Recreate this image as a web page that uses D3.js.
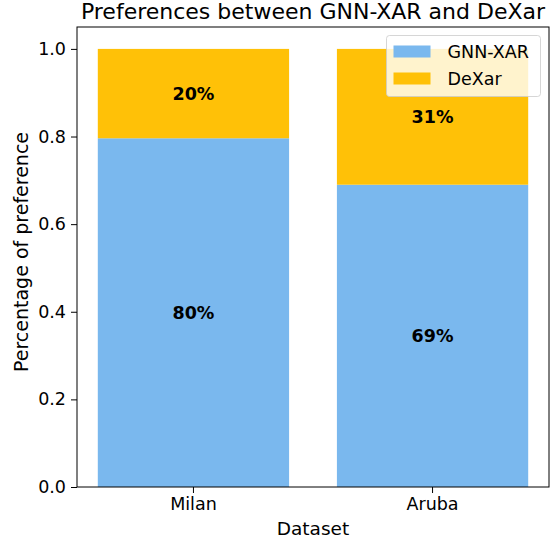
<!DOCTYPE html>
<html>
<head>
<meta charset="utf-8">
<script src="https://cdn.jsdelivr.net/npm/d3@7"></script>
<style>
  body { margin: 0; background: #fff; }
  svg { display: block; font-family: "DejaVu Sans", sans-serif; }
</style>
</head>
<body>
<svg id="chart"></svg>
<script>
// data
const datasets = ["Milan", "Aruba"];
const gnnXar = [0.796, 0.69];
const deXar = [0.204, 0.31];
const seriesNames = ["GNN-XAR", "DeXar"];
const seriesColors = ["#7ab8ee", "#ffc107"];
const yTicks = [0, 0.2, 0.4, 0.6, 0.8, 1.0];

const width = 550, height = 543;
const margin = {top: 27, right: 1, bottom: 56, left: 77};

const svg = d3.select("#chart")
    .attr("width", width)
    .attr("height", height);

const x = d3.scaleBand()
    .domain(datasets)
    .range([margin.left, width - margin.right])
    .paddingInner(0.2)
    .paddingOuter(0.087);

const y = d3.scaleLinear()
    .domain([0, 1.05])
    .range([height - margin.bottom, margin.top]);

// stack the two series
const rows = datasets.map((d, i) => ({dataset: d, "GNN-XAR": gnnXar[i], "DeXar": deXar[i]}));
const stacked = d3.stack().keys(seriesNames)(rows);
const color = d3.scaleOrdinal().domain(seriesNames).range(seriesColors);

const layers = svg.append("g")
  .selectAll("g")
  .data(stacked)
  .enter()
  .append("g")
    .attr("fill", d => color(d.key));

layers.selectAll("rect")
  .data(d => d)
  .enter()
  .append("rect")
    .attr("x", d => x(d.data.dataset))
    .attr("y", d => y(d[1]))
    .attr("width", x.bandwidth())
    .attr("height", d => y(d[0]) - y(d[1]));

// percentage labels in the middle of each segment
layers.selectAll("text")
  .data(d => d)
  .enter()
  .append("text")
    .attr("x", d => x(d.data.dataset) + x.bandwidth() / 2)
    .attr("y", d => y((d[0] + d[1]) / 2))
    .attr("dy", "0.36em")
    .attr("text-anchor", "middle")
    .attr("fill", "#000")
    .style("font-size", "17.5px")
    .style("font-weight", "bold")
    .text(d => Math.round((d[1] - d[0]) * 100) + "%");

// axes
const xAxis = svg.append("g")
    .attr("transform", `translate(0,${height - margin.bottom})`)
    .call(d3.axisBottom(x).tickSize(6).tickPadding(5));

const yAxis = svg.append("g")
    .attr("transform", `translate(${margin.left},0)`)
    .call(d3.axisLeft(y).tickValues(yTicks).tickFormat(d3.format(".1f")).tickSize(6).tickPadding(5));

[xAxis, yAxis].forEach(a => {
  a.select(".domain").remove();
  a.selectAll("text").style("font-size", "17.5px").attr("fill", "#000").style("font-family", "DejaVu Sans");
  a.selectAll("line").attr("stroke", "#000").attr("stroke-width", 1);
});

// frame
svg.append("rect")
    .attr("x", margin.left)
    .attr("y", margin.top)
    .attr("width", width - margin.left - margin.right)
    .attr("height", height - margin.top - margin.bottom)
    .attr("fill", "none")
    .attr("stroke", "#000")
    .attr("stroke-width", 1);

// title and axis labels
svg.append("text")
    .attr("x", (margin.left + width - margin.right) / 2)
    .attr("y", 19)
    .attr("text-anchor", "middle")
    .style("font-size", "22px")
    .text("Preferences between GNN-XAR and DeXar");

svg.append("text")
    .attr("x", (margin.left + width - margin.right) / 2)
    .attr("y", 535)
    .attr("text-anchor", "middle")
    .style("font-size", "18.5px")
    .text("Dataset");

svg.append("text")
    .attr("transform", `translate(28,${(margin.top + height - margin.bottom) / 2 - 5}) rotate(-90)`)
    .attr("text-anchor", "middle")
    .style("font-size", "19px")
    .text("Percentage of preference");

// legend
const legend = svg.append("g").attr("transform", "translate(386.5,35.5)");
legend.append("rect")
    .attr("width", 154)
    .attr("height", 61)
    .attr("rx", 3)
    .attr("fill", "#fff")
    .attr("fill-opacity", 0.8)
    .attr("stroke", "#ccc")
    .attr("stroke-opacity", 0.8);

const item = legend.selectAll(".item")
  .data(seriesNames)
  .enter()
  .append("g")
    .attr("class", "item")
    .attr("transform", (d, i) => `translate(7,${10 + i * 27})`);

item.append("rect")
    .attr("width", 37)
    .attr("height", 12)
    .attr("fill", d => color(d));

item.append("text")
    .attr("x", 54)
    .attr("y", 6)
    .attr("dy", "0.36em")
    .style("font-size", "17.5px")
    .text(d => d);
</script>
</body>
</html>
